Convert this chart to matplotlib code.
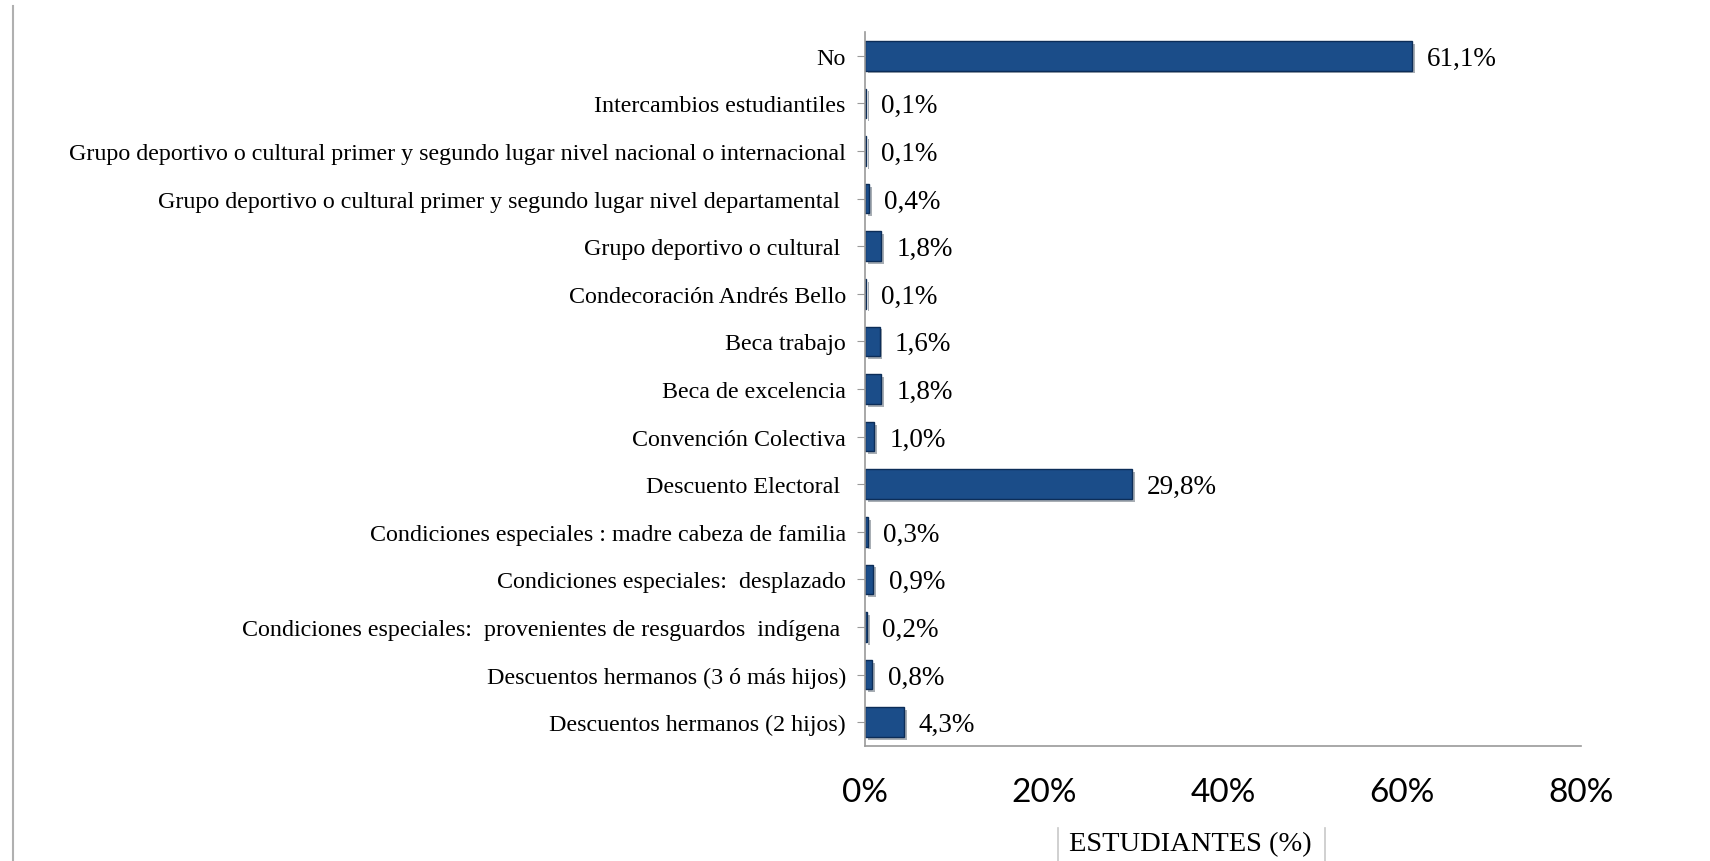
import matplotlib
matplotlib.use("Agg")
import matplotlib.pyplot as plt
import matplotlib.patheffects as pe
from matplotlib.lines import Line2D

categorias = [
    "No",
    "Intercambios estudiantiles",
    "Grupo deportivo o cultural primer y segundo lugar nivel nacional o internacional",
    "Grupo deportivo o cultural primer y segundo lugar nivel departamental ",
    "Grupo deportivo o cultural ",
    "Condecoración Andrés Bello",
    "Beca trabajo",
    "Beca de excelencia",
    "Convención Colectiva",
    "Descuento Electoral ",
    "Condiciones especiales : madre cabeza de familia",
    "Condiciones especiales:  desplazado",
    "Condiciones especiales:  provenientes de resguardos  indígena ",
    "Descuentos hermanos (3 ó más hijos)",
    "Descuentos hermanos (2 hijos)",
]
porcentajes = [61.1, 0.1, 0.1, 0.4, 1.8, 0.1, 1.6, 1.8, 1.0, 29.8, 0.3, 0.9, 0.2, 0.8, 4.3]
xticks = [0, 20, 40, 60, 80]

serif = "Liberation Serif"

fig = plt.figure(figsize=(17.1, 8.62), dpi=100)
ax = fig.add_axes([0.506, 0.1334, 0.4187, 0.8283])

y = list(range(len(categorias)))
barras = ax.barh(y, porcentajes, height=0.62, color="#1b4d89",
                 edgecolor="#0c2d58", linewidth=1.0)
for b in barras:
    b.set_path_effects([pe.SimplePatchShadow(offset=(2, -2), alpha=0.35), pe.Normal()])

for yi, v in zip(y, porcentajes):
    ax.text(v + 1.7, yi + 0.05, f"{v:.1f}%".replace(".", ","), va="center", ha="left",
            fontsize=19.5, family=serif, color="black")

ax.set_ylim(len(categorias) - 0.5, -0.5)
ax.set_xlim(0, 80)
ax.set_yticks(y)
ax.set_yticklabels(categorias, fontsize=17.3, family=serif)
ax.set_xticks(xticks)
ax.set_xticklabels([f"{t}%" for t in xticks], fontsize=24, family="Lato")

for s in ["top", "right"]:
    ax.spines[s].set_visible(False)
ax.spines["left"].set_color("#9a9a9a")
ax.spines["bottom"].set_color("#9a9a9a")
ax.spines["left"].set_linewidth(1.2)
ax.spines["bottom"].set_linewidth(1.2)
ax.tick_params(axis="y", length=6, color="#9a9a9a", pad=8)
ax.tick_params(axis="x", length=0, pad=22)

# borde de página a la izquierda
fig.add_artist(Line2D([0.0074, 0.0074], [0, 0.992], transform=fig.transFigure,
                      color="#b0b0b0", linewidth=1.5))

# caja del título del eje
fig.text(0.696, 0.02, "ESTUDIANTES (%)", ha="center", va="center",
         fontsize=20.5, family=serif)
fig.add_artist(Line2D([0.6187, 0.6187], [0, 0.038], transform=fig.transFigure,
                      color="#c8c8c8", linewidth=1.2))
fig.add_artist(Line2D([0.7749, 0.7749], [0, 0.038], transform=fig.transFigure,
                      color="#c8c8c8", linewidth=1.2))

fig.savefig("out.png", dpi=100)
